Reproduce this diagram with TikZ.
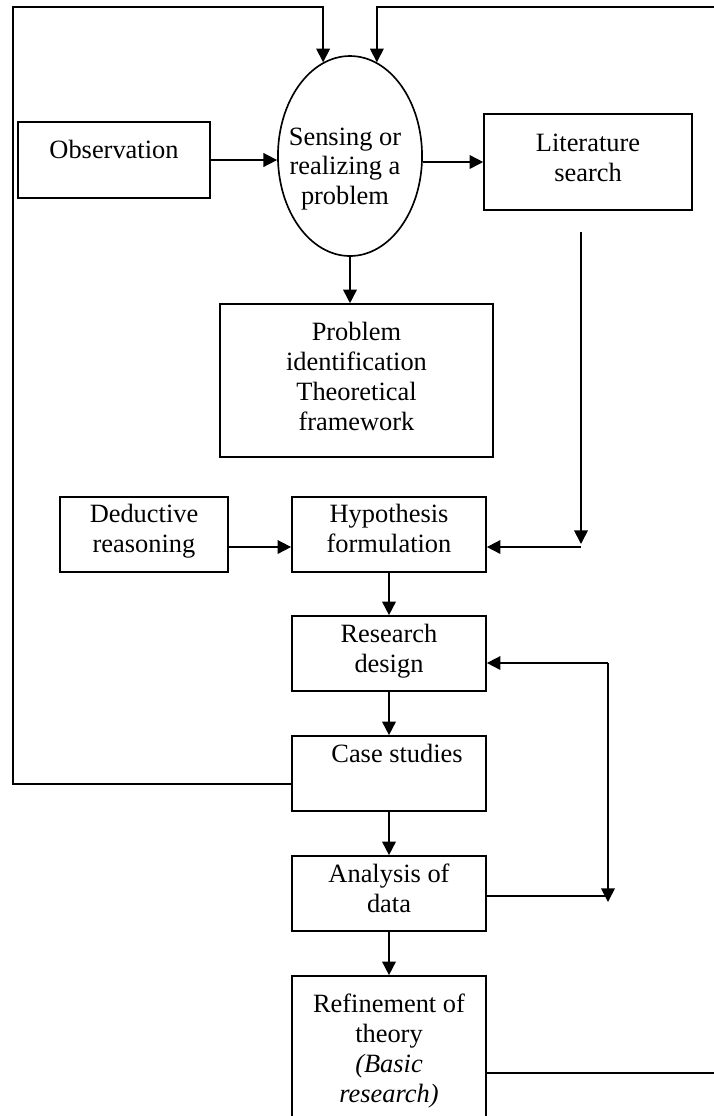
\documentclass[tikz,border=0pt]{standalone}
\usepackage{fontspec}
\setmainfont{Liberation Serif}
\usepackage{tikz}
\usetikzlibrary{shapes.geometric, arrows.meta, positioning, calc}
\newcommand{\lowstrut}[1]{\rule[-#1]{0pt}{#1}}
\tikzstyle{stage} = [rectangle, draw, align=center, inner sep=0pt, minimum width=88.2pt, minimum height=34.1pt]
\tikzstyle{oval} = [ellipse, draw, inner sep=0pt, minimum width=65.5pt, minimum height=90.9pt]
\tikzstyle{arrow} = [-{Triangle[length=6.2pt, width=6.2pt]}]

\begin{document}
\begin{tikzpicture}[x=0.4545pt, y=-0.4545pt, line width=0.75pt, font=\fontsize{12}{13.6}\selectfont]
    \useasboundingbox (0,0) rectangle (713,1116);

    % Top row
    \node[stage, minimum width=87.3pt, minimum height=34.5pt] (obs) at (114,160) {Observation\lowstrut{10pt}};
    \node[oval] (sense) at (350,156) {};
    \node[align=center, inner sep=0pt] (sensetext) at (345,169) {Sensing or\\realizing a\\problem};
    \node[stage, minimum width=94.5pt, minimum height=43.6pt] (lit) at (588,162) {Literature\\search\lowstrut{3.6pt}};

    % Problem
    \node[stage, minimum width=124.1pt, minimum height=69.5pt] (problem) at (356.5,380.5) {Problem\\identification\\Theoretical\\framework\lowstrut{4.1pt}};

    % Hypothesis row
    \node[stage, minimum width=76.4pt] (deduct) at (144,534.5) {Deductive\\reasoning\lowstrut{5.9pt}};
    \node[stage] (hypo) at (389,534.5) {Hypothesis\\formulation\lowstrut{5.9pt}};

    % Main column
    \node[stage] (research) at (389,653.5) {Research\\design\lowstrut{5pt}};
    \node[stage] (case) at (389,773.5) {\hspace*{7.3pt}Case studies\lowstrut{18.6pt}};
    \node[stage] (analysis) at (389,893.5) {Analysis of\\data\lowstrut{5pt}};
    \node[stage, minimum height=68.2pt] (refine) at (389,1051) {Refinement of\\theory\\\textit{(Basic}\\\textit{research)}\lowstrut{2.7pt}};

    % Corner points
    \coordinate (litdown) at (581,232);
    \coordinate (litend) at (581,544);
    \coordinate (litcorner) at (581,547);
    \coordinate (lb) at (13,784);
    \coordinate (lt) at (13,7);
    \coordinate (rb) at (740,1073);
    \coordinate (rt) at (740,7);
    \coordinate (fbtop) at (608,663);
    \coordinate (fbjoin) at (608,896);
    \coordinate (fbbot) at (608,902);

    % Arrows
    \draw[arrow] (obs.east) -- (obs.east -| sense.west);
    \draw[arrow] (sense.east |- lit.west) -- (lit.west);
    \draw[arrow] (sense.south) -- (sense.south |- problem.north);
    \draw[arrow] (litdown) -- (litend);
    \draw[arrow] (litcorner) -- (hypo.east |- litcorner);
    \draw[arrow] (deduct.east |- litcorner) -- (hypo.west |- litcorner);
    \draw[arrow] (hypo) -- (research);
    \draw[arrow] (research) -- (case);
    \draw[arrow] (case) -- (analysis);
    \draw[arrow] (analysis) -- (refine);

    % Feedback loops
    \draw[arrow] (case.west |- lb) -- (lb) -- (lt) -| (sense.106);
    \draw[arrow] (refine.east |- rb) -- (rb) -- (rt) -| (sense.74);
    \draw (analysis.east |- fbjoin) -- (fbjoin);
    \draw[arrow] (fbtop) -- (fbbot);
    \draw[arrow] (fbtop) -- (research.east |- fbtop);
\end{tikzpicture}
\end{document}
